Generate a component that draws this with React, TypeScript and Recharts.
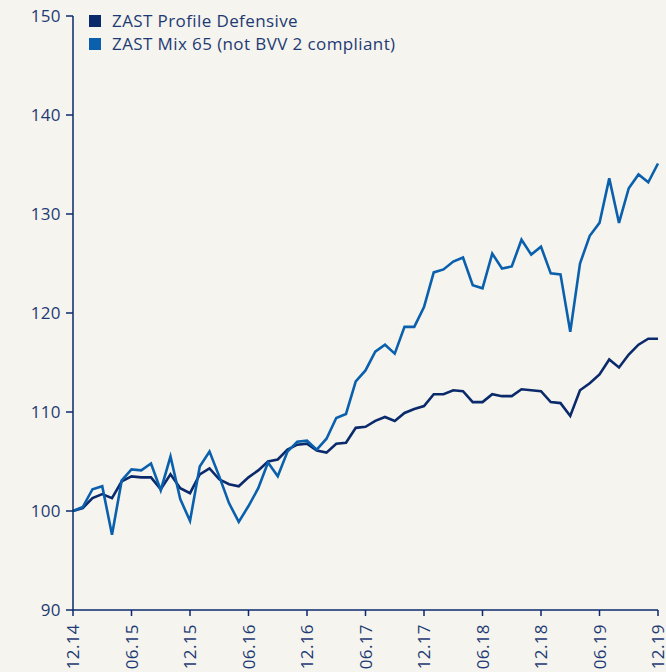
import { LineChart, Line, XAxis, YAxis } from "recharts";

const months = [
  "12.14",
  "01.15", "02.15", "03.15", "04.15", "05.15", "06.15", "07.15", "08.15", "09.15", "10.15", "11.15", "12.15",
  "01.16", "02.16", "03.16", "04.16", "05.16", "06.16", "07.16", "08.16", "09.16", "10.16", "11.16", "12.16",
  "01.17", "02.17", "03.17", "04.17", "05.17", "06.17", "07.17", "08.17", "09.17", "10.17", "11.17", "12.17",
  "01.18", "02.18", "03.18", "04.18", "05.18", "06.18", "07.18", "08.18", "09.18", "10.18", "11.18", "12.18",
  "01.19", "02.19", "03.19", "04.19", "05.19", "06.19", "07.19", "08.19", "09.19", "10.19", "11.19", "12.19",
];

const defensive = [
  100.0,
  100.3, 101.3, 101.7, 101.3, 103.0, 103.5, 103.4, 103.4, 102.2, 103.7, 102.3, 101.8,
  103.7, 104.3, 103.2, 102.7, 102.5, 103.4, 104.1, 105.0, 105.2, 106.2, 106.7, 106.8,
  106.1, 105.9, 106.8, 106.9, 108.4, 108.5, 109.1, 109.5, 109.1, 109.9, 110.3, 110.6,
  111.8, 111.8, 112.2, 112.1, 111.0, 111.0, 111.8, 111.6, 111.6, 112.3, 112.2, 112.1,
  111.0, 110.9, 109.6, 112.2, 112.9, 113.8, 115.3, 114.5, 115.8, 116.8, 117.4, 117.4,
];

const mix65 = [
  100.0,
  100.4, 102.2, 102.5, 97.6, 103.1, 104.2, 104.1, 104.8, 102.1, 105.5, 101.2, 99.0,
  104.5, 106.0, 103.5, 100.8, 98.9, 100.5, 102.3, 104.9, 103.5, 106.0, 107.0, 107.1,
  106.2, 107.3, 109.4, 109.8, 113.1, 114.2, 116.1, 116.8, 115.9, 118.6, 118.6, 120.6,
  124.1, 124.4, 125.2, 125.6, 122.8, 122.5, 126.0, 124.5, 124.7, 127.4, 125.9, 126.7,
  124.0, 123.9, 118.1, 125.0, 127.8, 129.1, 133.6, 129.1, 132.6, 134.0, 133.2, 135.1,
];

const yTicks = [90, 100, 110, 120, 130, 140, 150];

const seriesNames = ["ZAST Profile Defensive", "ZAST Mix 65 (not BVV 2 compliant)"];
const seriesColors = ["#0b2a6c", "#0a60ad"];

const data = months.map((m, i) => ({ month: m, defensive: defensive[i], mix65: mix65[i] }));

const TEXT = "#1e3a74";
const AXIS = "#0b2a6c";
const FONT = "'Open Sans', sans-serif";
const FS = 17;
const LS = 0.4;

function XTick(props: any) {
  const { x, y, payload } = props;
  return (
    <g transform={`translate(${x},${y + 6}) rotate(-90)`}>
      <text
        textAnchor="end"
        dy="0.36em"
        fill={TEXT}
        fontSize={FS}
        fontFamily={FONT}
        letterSpacing={LS}
      >
        {payload.value}
      </text>
    </g>
  );
}

function YTick(props: any) {
  const { x, y, payload } = props;
  return (
    <text
      x={x}
      y={y}
      dy="0.36em"
      textAnchor="end"
      fill={TEXT}
      fontSize={FS}
      fontFamily={FONT}
      letterSpacing={LS}
    >
      {payload.value}
    </text>
  );
}

function LegendBox() {
  return (
    <div
      style={{
        position: "absolute",
        left: 89,
        top: 9,
        fontFamily: FONT,
        fontSize: FS,
        letterSpacing: LS,
        color: TEXT,
        lineHeight: "23px",
      }}
    >
      {seriesNames.map((n, i) => (
        <div key={n} style={{ display: "flex", alignItems: "center" }}>
          <span
            style={{
              display: "inline-block",
              width: 12,
              height: 12,
              background: seriesColors[i],
              marginRight: 11,
            }}
          />
          {n}
        </div>
      ))}
    </div>
  );
}

export default function App() {
  return (
    <div
      style={{
        position: "absolute",
        left: 0,
        top: 0,
        width: 666,
        height: 672,
        background: "#f5f4ee",
        overflow: "hidden",
      }}
    >
      <LineChart width={666} height={672} data={data} margin={{ top: 16, right: 8, left: 0, bottom: 0 }}>
        <XAxis
          dataKey="month"
          interval={5}
          height={62}
          tick={<XTick />}
          tickSize={6}
          axisLine={{ stroke: AXIS, strokeWidth: 1.5 }}
          tickLine={{ stroke: AXIS, strokeWidth: 1.5 }}
        />
        <YAxis
          domain={[90, 150]}
          ticks={yTicks}
          width={73}
          tickSize={7}
          tickMargin={5}
          tick={<YTick />}
          axisLine={{ stroke: AXIS, strokeWidth: 1.5 }}
          tickLine={{ stroke: AXIS, strokeWidth: 1.5 }}
        />
        <Line
          type="linear"
          dataKey="defensive"
          stroke={seriesColors[0]}
          strokeWidth={2.6}
          dot={false}
          isAnimationActive={false}
        />
        <Line
          type="linear"
          dataKey="mix65"
          stroke={seriesColors[1]}
          strokeWidth={2.6}
          dot={false}
          isAnimationActive={false}
        />
      </LineChart>
      <LegendBox />
    </div>
  );
}
